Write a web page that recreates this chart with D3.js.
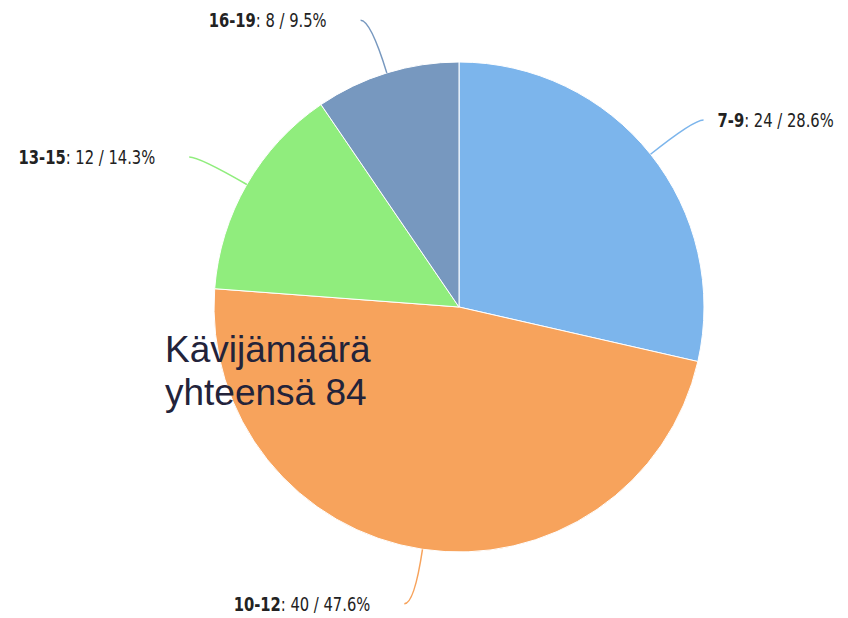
<!DOCTYPE html>
<html>
<head>
<meta charset="utf-8">
<script src="https://cdn.jsdelivr.net/npm/d3@7"></script>
<style>
  body { margin: 0; background: #fff; }
  .lbl { font-family: "DejaVu Sans Condensed", "DejaVu Sans", sans-serif; font-stretch: condensed; font-size: 20px; fill: #222; }
  .center-txt { font-family: "Liberation Sans", Arial, sans-serif; font-size: 37px; fill: #23233a; }
</style>
</head>
<body>
<div id="chart"></div>
<script>
// data
var categories = ["7-9", "10-12", "13-15", "16-19"];
var counts = [24, 40, 12, 8];
var colors = ["#7cb5ec", "#f7a35c", "#90ed7d", "#7798bf"];
var centerLines = ["Kävijämäärä", "yhteensä 84"];

var width = 848, height = 618;
var cx = 459, cy = 307, radius = 245;
var squeeze = 0.82; // labels use a narrow face in the original

var total = d3.sum(counts);
var data = categories.map(function(c, i) {
    return {name: c, value: counts[i], color: colors[i]};
});

var svg = d3.select("#chart").append("svg")
    .attr("width", width)
    .attr("height", height);

var g = svg.append("g")
    .attr("transform", "translate(" + cx + "," + cy + ")");

var pie = d3.pie()
    .sort(null)
    .value(function(d) { return d.value; });

var arc = d3.arc()
    .innerRadius(0)
    .outerRadius(radius);

var arcs = pie(data);

g.selectAll("path.slice")
    .data(arcs)
    .enter()
    .append("path")
    .attr("class", "slice")
    .attr("d", arc)
    .attr("fill", function(d) { return d.data.color; })
    .attr("stroke", "#fff")
    .attr("stroke-width", 1);

// point on circle at angle a (0 = top, clockwise)
function pt(a, r) {
    return [Math.sin(a) * r, -Math.cos(a) * r];
}

arcs.forEach(function(d) {
    var mid = (d.startAngle + d.endAngle) / 2;
    var right = Math.sin(mid) > 0;
    var p = pt(mid, radius);
    var q = pt(mid, radius + 55);
    var e = [q[0] + (right ? 10 : -10), q[1]];

    g.append("path")
        .attr("d", "M" + p[0] + "," + p[1] + " Q" + q[0] + "," + q[1] + " " + e[0] + "," + e[1])
        .attr("fill", "none")
        .attr("stroke", d.data.color)
        .attr("stroke-width", 1.5);

    var pct = (d.data.value / total * 100).toFixed(1);
    var tx = right ? e[0] + 14 : e[0] - 34;
    var t = g.append("text")
        .attr("class", "lbl")
        .attr("transform", "translate(" + tx + "," + e[1] + ") scale(" + squeeze + ",1)")
        .attr("dy", "0.35em")
        .attr("text-anchor", right ? "start" : "end");
    t.append("tspan")
        .style("font-weight", "bold")
        .text(d.data.name);
    t.append("tspan")
        .style("font-weight", "300")
        .text(": " + d.data.value + " / " + pct + "%");
});

svg.selectAll("text.center-txt")
    .data(centerLines)
    .enter()
    .append("text")
    .attr("class", "center-txt")
    .attr("x", 165)
    .attr("y", function(d, i) { return 362 + i * 43; })
    .text(function(d) { return d; });
</script>
</body>
</html>
